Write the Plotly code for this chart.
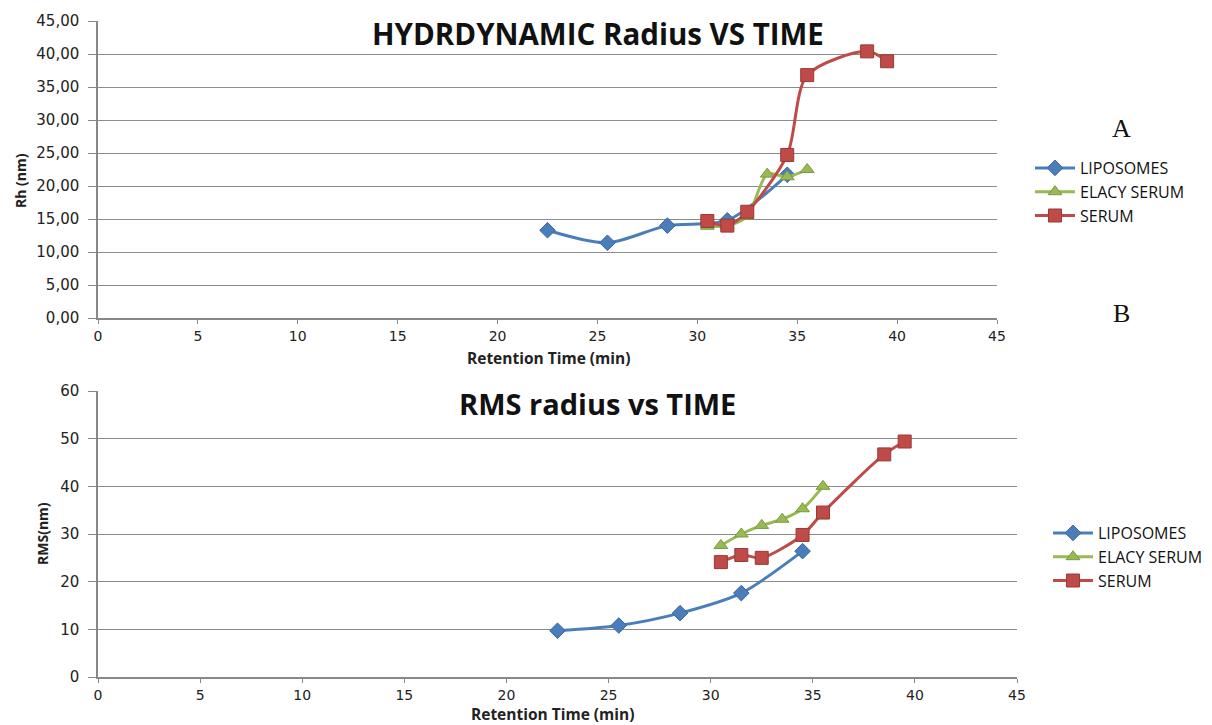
import plotly.graph_objects as go

# Hydrodynamic radius (Rh, nm) against retention time (min)
rh_lipo_t = [22.5, 25.5, 28.5, 31.5, 34.5]
rh_lipo_v = [13.3, 11.4, 14.0, 14.8, 21.7]
rh_elacy_t = [30.5, 31.5, 32.5, 33.5, 34.5, 35.5]
rh_elacy_v = [13.9, 14.0, 15.4, 21.8, 21.4, 22.5]
rh_serum_t = [30.5, 31.5, 32.5, 34.5, 35.5, 38.5, 39.5]
rh_serum_v = [14.7, 14.0, 16.1, 24.7, 36.8, 40.4, 38.9]

# RMS radius (nm) against retention time (min)
rms_lipo_t = [22.5, 25.5, 28.5, 31.5, 34.5]
rms_lipo_v = [9.7, 10.8, 13.4, 17.6, 26.4]
rms_elacy_t = [30.5, 31.5, 32.5, 33.5, 34.5, 35.5]
rms_elacy_v = [27.6, 30.0, 31.8, 33.1, 35.3, 40.0]
rms_serum_t = [30.5, 31.5, 32.5, 34.5, 35.5, 38.5, 39.5]
rms_serum_v = [24.1, 25.6, 25.0, 29.8, 34.5, 46.7, 49.4]

series_names = ["LIPOSOMES", "ELACY SERUM", "SERUM"]
line_colors = ["#4A7EBB", "#98B954", "#BE4B48"]
edge_colors = ["#3A669C", "#7A9A3E", "#9C3835"]
symbols = ["diamond", "triangle-up", "square"]
sizes = [12, 12, 13]

W, H = 1212, 725


def px_x(v):
    return v / W


def px_y(v):
    return 1 - v / H


fig = go.Figure()

panels = [
    ([(rh_lipo_t, rh_lipo_v), (rh_elacy_t, rh_elacy_v), (rh_serum_t, rh_serum_v)], "x", "y", "legend"),
    ([(rms_lipo_t, rms_lipo_v), (rms_elacy_t, rms_elacy_v), (rms_serum_t, rms_serum_v)], "x2", "y2", "legend2"),
]

for data, xa, ya, lg in panels:
    for i, (t, v) in enumerate(data):
        fig.add_trace(go.Scatter(
            x=t, y=v, name=series_names[i], mode="lines+markers",
            xaxis=xa, yaxis=ya, legend=lg,
            line=dict(color=line_colors[i], width=3, shape="spline", smoothing=0.8),
            marker=dict(symbol=symbols[i], size=sizes[i], color=line_colors[i],
                        line=dict(color=edge_colors[i], width=1)),
        ))

x_tick_font = dict(family="DejaVu Sans", size=14, color="#222222")
y_tick_font = dict(family="DejaVu Sans", size=15, color="#222222")
title_font = dict(family="Open Sans", size=15.5, color="#222222")

common_x = dict(
    range=[0, 45], dtick=5, tick0=0, showgrid=False, showline=True,
    linecolor="#888888", linewidth=1.5, ticks="outside", ticklen=4,
    tickcolor="#888888", tickfont=x_tick_font, zeroline=False, automargin=False,
)
common_y = dict(
    showgrid=True, gridcolor="#8C8C8C", gridwidth=1.3, showline=True,
    linecolor="#888888", linewidth=1.5, ticks="outside", ticklen=8,
    tickcolor="#888888", tickfont=y_tick_font, zeroline=False, automargin=False,
    ticklabelstandoff=6,
)

legend_style = dict(xanchor="left", yanchor="top",
                    font=dict(family="Open Sans", size=16, color="#111111"),
                    bgcolor="rgba(0,0,0,0)", tracegroupgap=6, itemwidth=40)


def note(text, x, y, font, angle=0):
    return dict(text=text, x=px_x(x), y=px_y(y), xref="paper", yref="paper",
                xanchor="center", yanchor="middle", showarrow=False,
                font=font, textangle=angle)


fig.update_layout(
    width=W, height=H,
    margin=dict(l=0, r=0, t=0, b=0),
    paper_bgcolor="white", plot_bgcolor="white",
    separators=",.",
    xaxis=dict(common_x, domain=[px_x(98), px_x(997)], anchor="y"),
    yaxis=dict(common_y, domain=[px_y(318), px_y(21)], anchor="x",
               range=[0, 45], dtick=5, tickformat=".2f"),
    xaxis2=dict(common_x, domain=[px_x(98), px_x(1017)], anchor="y2"),
    yaxis2=dict(common_y, domain=[px_y(677), px_y(391)], anchor="x2",
                range=[0, 60], dtick=10),
    legend=dict(legend_style, x=px_x(1030), y=px_y(151)),
    legend2=dict(legend_style, x=px_x(1048), y=px_y(516)),
    showlegend=True,
    annotations=[
        note("<b>HYDRDYNAMIC Radius VS TIME</b>", 598, 33,
             dict(family="Open Sans", size=29.5, color="#111111")),
        note("<b>RMS radius vs TIME</b>", 597, 404,
             dict(family="Open Sans", size=29, color="#111111")),
        note("<b>Retention Time (min)</b>", 548, 358, title_font),
        note("<b>Retention Time (min)</b>", 552, 714, title_font),
        note("<b>Rh (nm)</b>", 20, 180, dict(family="Open Sans", size=14, color="#222222"), -90),
        note("<b>RMS(nm)</b>", 42, 534, dict(family="Open Sans", size=14, color="#222222"), -90),
        note("A", 1121, 128, dict(family="Liberation Serif", size=26, color="#111111")),
        note("B", 1121, 314, dict(family="Liberation Serif", size=26, color="#111111")),
    ],
)

fig.write_html("out.html")
